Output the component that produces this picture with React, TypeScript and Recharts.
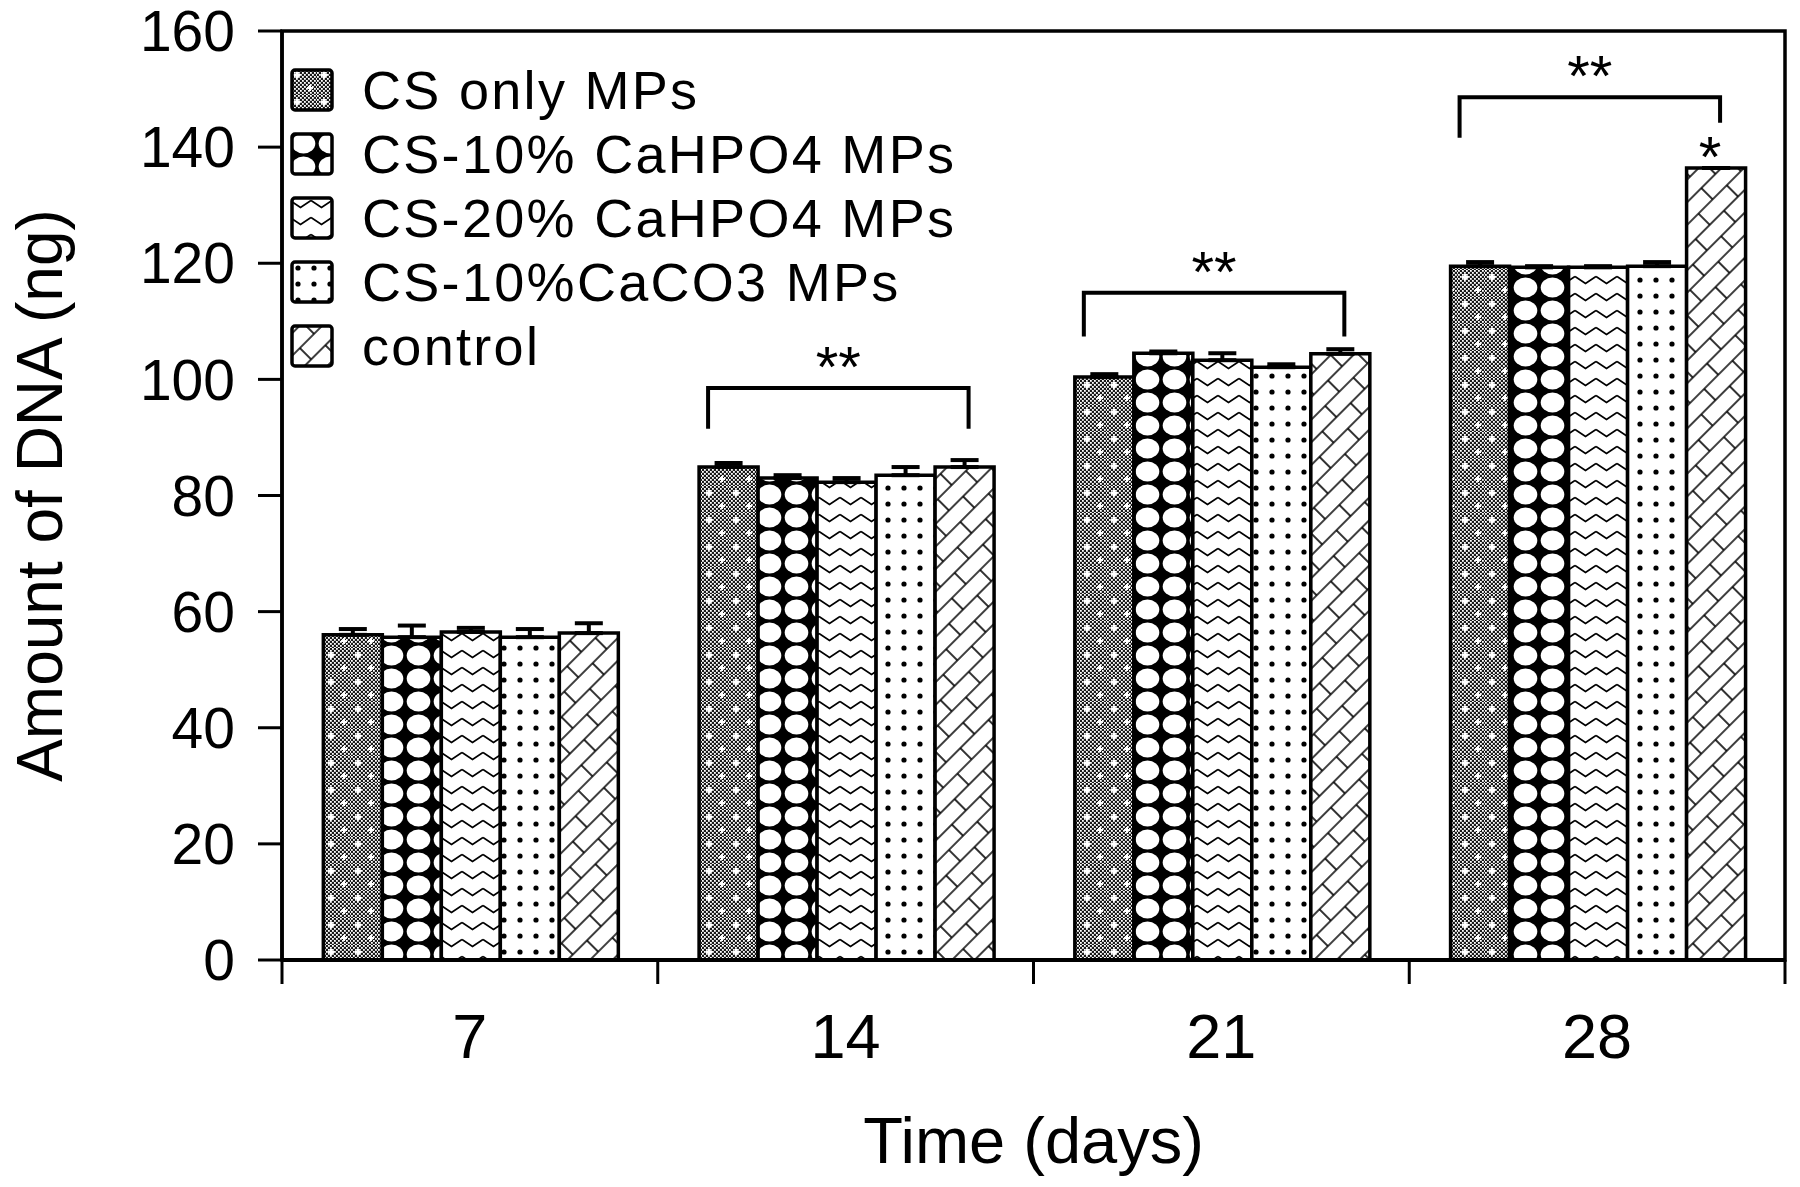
import { BarChart, Bar, XAxis, YAxis, ErrorBar, LabelList, ReferenceArea } from 'recharts'

const days = ['7', '14', '21', '28']

const csOnly = [56.0, 84.9, 100.4, 119.5]
const ca10 = [55.6, 83.0, 104.5, 119.3]
const ca20 = [56.5, 82.3, 103.3, 119.3]
const co3 = [55.6, 83.5, 102.1, 119.5]
const control = [56.3, 84.9, 104.4, 136.4]

// upper error only
const csOnlyErr = [1.0, 0.7, 0.5, 0.7]
const ca10Err = [2.0, 0.5, 0.3, 0.2]
const ca20Err = [0.7, 0.7, 1.2, 0.2]
const co3Err = [1.4, 1.4, 0.5, 0.7]
const controlErr = [1.7, 1.2, 0.8, 0]

const yTicks = [0, 20, 40, 60, 80, 100, 120, 140, 160]

const seriesNames = ['CS only MPs', 'CS-10% CaHPO4 MPs', 'CS-20% CaHPO4 MPs', 'CS-10%CaCO3 MPs', 'control']
const patternIds = ['pCS', 'pC10', 'pC20', 'pCO3', 'pCtrl']

// significance brackets per group (data units)
const bracketTop = [0, 98.5, 114.9, 148.6]
const bracketLeftEnd = [0, 91.5, 107.4, 141.6]
const bracketRightEnd = [0, 91.5, 107.4, 144.2]
const groupStars = ['', '**', '**', '**']
const controlStars = ['', '', '', '*']

const values = [csOnly, ca10, ca20, co3, control]
const errs = [csOnlyErr, ca10Err, ca20Err, co3Err, controlErr]

const data = days.map((d, i) => {
  const row: any = { day: d }
  values.forEach((v, s) => {
    row['s' + s] = v[i]
    row['e' + s] = [0, errs[s][i]]
  })
  return row
})

const FONT = '"Liberation Sans", Arial, Helvetica, sans-serif'
const W = 1800
const H = 1187
const M = { top: 31, right: 15, bottom: 0, left: 0 }
const Y_W = 282
const X_H = 227
const HALF_BAND = (W - M.left - M.right - Y_W) / days.length / 2

const Patterns = () => (
  <svg width={0} height={0} style={{ position: 'absolute' }}>
    <defs>
      <pattern id="chk" width={4} height={4} patternUnits="userSpaceOnUse">
        <rect width={4} height={4} fill="#1a1a1a" />
        <rect width={1.8} height={1.8} fill="#fff" />
        <rect x={2} y={2} width={1.8} height={1.8} fill="#fff" />
      </pattern>
      <pattern id="pCS" width={27} height={27} patternUnits="userSpaceOnUse">
        <rect width={27} height={27} fill="url(#chk)" />
        <path d="M7 4v6M4 7h6M20 17v6M17 20h6" stroke="#fff" strokeWidth={2} />
      </pattern>
      <pattern id="pC10" width={27} height={23} patternUnits="userSpaceOnUse">
        <rect width={27} height={23} fill="#000" />
        <ellipse cx={13.5} cy={11.5} rx={11.8} ry={10} fill="#fff" />
      </pattern>
      <pattern id="pC20" width={21} height={17} patternUnits="userSpaceOnUse">
        <rect width={21} height={17} fill="#fff" />
        <path d="M0 4.5 L10.5 11.5 L21 4.5" stroke="#000" strokeWidth={1.8} fill="none" />
      </pattern>
      <pattern id="pCO3" width={16} height={16} patternUnits="userSpaceOnUse">
        <rect width={16} height={16} fill="#fff" />
        <circle cx={8} cy={8} r={2.6} fill="#000" />
      </pattern>
      <pattern id="pCtrl" width={40} height={32} patternUnits="userSpaceOnUse" patternTransform="rotate(-45)">
        <rect width={40} height={32} fill="#fff" />
        <path d="M0 8H40M0 24H40M10 8V24M30 24V32M30 0V8" stroke="#000" strokeWidth={1.6} fill="none" />
      </pattern>
    </defs>
  </svg>
)

const XTick = (props: any) => {
  const { x, y, payload, index } = props
  const last = index === days.length - 1
  return (
    <g>
      <line x1={x - HALF_BAND} x2={x - HALF_BAND} y1={y} y2={y + 24} stroke="#000" strokeWidth={3} />
      {last && <line x1={x + HALF_BAND} x2={x + HALF_BAND} y1={y} y2={y + 24} stroke="#000" strokeWidth={3} />}
      <text x={x} y={y + 98} textAnchor="middle" fontSize={63} fontFamily={FONT} fill="#000">
        {payload.value}
      </text>
    </g>
  )
}

const renderMarks = (props: any) => {
  const { index } = props
  const vb = props.viewBox ?? props
  const x = Number(vb.x)
  const y = Number(vb.y)
  const width = Number(vb.width)
  const h = Math.abs(Number(vb.height))
  const v = control[index]
  const k = h / v
  const base = y + h
  const out: any[] = []
  if (groupStars[index]) {
    const x1 = x - 4 * width + 9
    const x2 = x + width / 2 + 4
    const yTop = base - bracketTop[index] * k
    const yL = base - bracketLeftEnd[index] * k
    const yR = base - bracketRightEnd[index] * k
    out.push(
      <path key="b" d={`M${x1} ${yL} V${yTop} H${x2} V${yR}`} stroke="#000" strokeWidth={4} fill="none" />,
      <text key="s" x={(x1 + x2) / 2} y={yTop - 1} textAnchor="middle" fontSize={58} fontFamily={FONT} fill="#000">
        {groupStars[index]}
      </text>
    )
  }
  if (controlStars[index]) {
    out.push(
      <text key="c" x={x + width / 2 - 6} y={y + 9} textAnchor="middle" fontSize={58} fontFamily={FONT} fill="#000">
        {controlStars[index]}
      </text>
    )
  }
  return <g>{out}</g>
}

const LegendBox = () => (
  <div style={{ position: 'absolute', left: 290, top: 58, fontFamily: FONT }}>
    {seriesNames.map((name, i) => (
      <div key={name} style={{ display: 'flex', alignItems: 'center', height: 64 }}>
        <svg width={44} height={44}>
          <rect x={2} y={2} width={40} height={40} rx={3} fill={`url(#${patternIds[i]})`} stroke="#000" strokeWidth={3.5} />
        </svg>
        <span style={{ marginLeft: 28, fontSize: 54, letterSpacing: 2.3, lineHeight: '60px', color: '#000', whiteSpace: 'nowrap' }}>
          {name}
        </span>
      </div>
    ))}
  </div>
)

const YTitle = (p: any) => {
  const vb = p.viewBox || { x: 0, y: M.top, width: Y_W, height: 929 }
  const cx = vb.x + 62
  const cy = vb.y + vb.height / 2
  return (
    <text x={cx} y={cy} transform={`rotate(-90 ${cx} ${cy})`} textAnchor="middle" fontSize={64} fontFamily={FONT} fill="#000">
      Amount of DNA (ng)
    </text>
  )
}

const XTitle = (p: any) => {
  const vb = p.viewBox || { x: Y_W, y: H - X_H, width: W - Y_W - M.right, height: X_H }
  return (
    <text x={vb.x + vb.width / 2} y={vb.y + 203} textAnchor="middle" fontSize={65} fontFamily={FONT} fill="#000">
      Time (days)
    </text>
  )
}

export default function App() {
  return (
    <div style={{ width: W, height: H, position: 'relative', background: '#fff', margin: -8 }}>
      <Patterns />
      <BarChart width={W} height={H} data={data} margin={M} barCategoryGap="11%" barGap={0}>
        <XAxis
          dataKey="day"
          height={X_H}
          tickLine={false}
          tickSize={0}
          tickMargin={0}
          axisLine={{ stroke: '#000', strokeWidth: 4 }}
          tick={<XTick />}
          interval={0}
          label={(p: any) => <XTitle {...p} />}
        />
        <YAxis
          width={Y_W}
          domain={[0, 160]}
          ticks={yTicks}
          interval={0}
          tickSize={24}
          tickMargin={23}
          axisLine={{ stroke: '#000', strokeWidth: 3.5 }}
          tickLine={{ stroke: '#000', strokeWidth: 3 }}
          tick={{ fontSize: 57, fill: '#000', fontFamily: FONT }}
          label={(p: any) => <YTitle {...p} />}
        />
        <ReferenceArea y1={0} y2={160} fill="none" stroke="#000" strokeWidth={3.5} />
        {seriesNames.map((name, s) => (
          <Bar
            key={name}
            dataKey={'s' + s}
            name={name}
            fill={`url(#${patternIds[s]})`}
            stroke="#000"
            strokeWidth={3.5}
            isAnimationActive={false}
          >
            <ErrorBar dataKey={'e' + s} direction="y" width={14} stroke="#000" strokeWidth={4} />
            {s === 4 && <LabelList dataKey="s4" content={renderMarks} />}
          </Bar>
        ))}
      </BarChart>
      <LegendBox />
    </div>
  )
}
